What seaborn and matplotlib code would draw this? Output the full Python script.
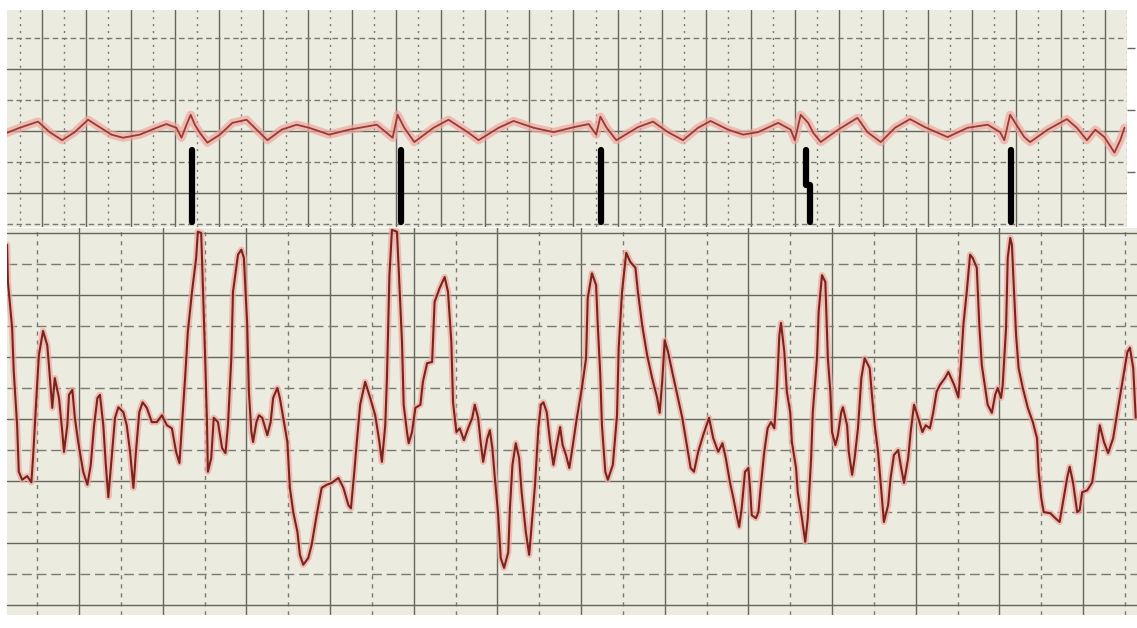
import numpy as np
import pandas as pd
import matplotlib
matplotlib.use("Agg")
import matplotlib.pyplot as plt
import seaborn as sns

# lower strip: time in large boxes, amplitude in large boxes
low_t = [0.14, 0.15, 0.20, 0.22, 0.26, 0.28, 0.32, 0.38, 0.43, 0.45,
         0.49, 0.52, 0.57, 0.62, 0.64, 0.68, 0.71, 0.76, 0.80, 0.82,
         0.86, 0.88, 0.92, 0.95, 0.99, 1.05, 1.10, 1.14, 1.18, 1.22,
         1.25, 1.29, 1.32, 1.35, 1.39, 1.43, 1.47, 1.53, 1.57, 1.61,
         1.65, 1.68, 1.72, 1.76, 1.81, 1.87, 1.93, 1.99, 2.05, 2.11,
         2.16, 2.20, 2.24, 2.27, 2.30, 2.35, 2.40, 2.42, 2.46, 2.48,
         2.51, 2.53, 2.54, 2.58, 2.61, 2.66, 2.71, 2.75, 2.78, 2.82,
         2.84, 2.90, 2.94, 2.97, 3.01, 3.03, 3.06, 3.08, 3.12, 3.15,
         3.19, 3.25, 3.29, 3.32, 3.37, 3.40, 3.44, 3.49, 3.52, 3.56,
         3.61, 3.64, 3.68, 3.74, 3.78, 3.84, 3.90, 3.96, 4.02, 4.10,
         4.16, 4.22, 4.25, 4.29, 4.32, 4.36, 4.42, 4.48, 4.54, 4.59,
         4.62, 4.66, 4.68, 4.71, 4.74, 4.80, 4.82, 4.86, 4.88, 4.92,
         4.94, 4.98, 5.02, 5.08, 5.11, 5.16, 5.22, 5.25, 5.31, 5.37,
         5.41, 5.45, 5.47, 5.51, 5.55, 5.60, 5.65, 5.70, 5.73, 5.77,
         5.80, 5.83, 5.88, 5.91, 5.94, 5.97, 6.01, 6.04, 6.08, 6.13,
         6.15, 6.18, 6.22, 6.26, 6.29, 6.34, 6.38, 6.41, 6.45, 6.49,
         6.52, 6.55, 6.59, 6.63, 6.67, 6.71, 6.75, 6.78, 6.82, 6.86,
         6.89, 6.95, 7.01, 7.06, 7.08, 7.13, 7.18, 7.20, 7.23, 7.25,
         7.29, 7.32, 7.38, 7.43, 7.45, 7.49, 7.54, 7.59, 7.65, 7.68,
         7.73, 7.79, 7.85, 7.91, 7.94, 7.97, 8.00, 8.04, 8.09, 8.15,
         8.21, 8.27, 8.31, 8.35, 8.40, 8.46, 8.53, 8.58, 8.64, 8.69,
         8.73, 8.78, 8.82, 8.86, 8.89, 8.92, 8.96, 9.00, 9.02, 9.04,
         9.09, 9.12, 9.15, 9.19, 9.23, 9.27, 9.31, 9.34, 9.37, 9.39,
         9.43, 9.46, 9.50, 9.52, 9.57, 9.59, 9.64, 9.68, 9.71, 9.75,
         9.77, 9.82, 9.84, 9.88, 9.92, 9.95, 9.98, 10.00, 10.04, 10.07,
         10.11, 10.13, 10.18, 10.20, 10.24, 10.27, 10.31, 10.35, 10.39, 10.45,
         10.48, 10.51, 10.55, 10.59, 10.62, 10.67, 10.70, 10.74, 10.79, 10.82,
         10.86, 10.91, 10.94, 10.98, 11.03, 11.08, 11.12, 11.17, 11.21, 11.25,
         11.29, 11.35, 11.39, 11.46, 11.51, 11.54, 11.57, 11.61, 11.65, 11.68,
         11.73, 11.76, 11.79, 11.83, 11.86, 11.91, 11.95, 11.98, 12.02, 12.04,
         12.08, 12.10, 12.13, 12.15, 12.17, 12.20, 12.23, 12.28, 12.34, 12.40,
         12.45, 12.47, 12.50, 12.53, 12.61, 12.67, 12.72, 12.76, 12.81, 12.84,
         12.88, 12.93, 12.96, 12.99, 13.05, 13.11, 13.15, 13.20, 13.25, 13.30,
         13.36, 13.41, 13.47, 13.53, 13.56, 13.60, 13.63]
low_v = [5.81, 5.21, 4.47, 3.76, 2.90, 2.15, 2.02, 2.08, 1.98, 2.37,
         3.34, 4.03, 4.42, 4.19, 3.87, 3.18, 3.66, 3.34, 2.79, 2.47,
         2.90, 3.39, 3.47, 3.02, 2.63, 2.15, 1.94, 2.26, 2.90, 3.34,
         3.39, 2.90, 2.26, 1.74, 2.37, 3.02, 3.19, 3.11, 2.90, 2.47,
         1.89, 2.47, 3.11, 3.27, 3.18, 2.95, 2.95, 3.06, 2.90, 2.85,
         2.47, 2.29, 3.11, 3.71, 4.40, 5.05, 5.60, 6.02, 6.00, 5.16,
         3.87, 2.90, 2.15, 2.37, 3.02, 2.95, 2.53, 2.45, 2.90, 3.98,
         5.05, 5.65, 5.73, 5.60, 4.52, 3.44, 2.79, 2.63, 2.95, 3.06,
         3.02, 2.74, 2.95, 3.34, 3.50, 3.34, 3.02, 2.63, 1.89, 1.50,
         1.18, 0.81, 0.65, 0.76, 0.97, 1.45, 1.89, 1.94, 1.97, 2.05,
         1.89, 1.61, 1.56, 2.15, 2.63, 3.23, 3.60, 3.34, 3.06, 2.63,
         2.31, 2.90, 3.66, 5.32, 6.05, 6.02, 5.44, 4.24, 3.23, 2.79,
         2.61, 2.79, 3.18, 3.23, 3.60, 3.90, 3.92, 4.89, 5.11, 5.29,
         5.05, 4.24, 3.27, 2.79, 2.85, 2.66, 2.85, 3.02, 3.23, 3.02,
         2.63, 2.31, 2.69, 2.82, 2.53, 2.05, 1.45, 0.76, 0.60, 0.85,
         1.56, 2.26, 2.61, 2.37, 1.82, 1.18, 0.81, 1.29, 1.94, 2.85,
         3.23, 3.27, 3.11, 2.63, 2.26, 2.58, 2.87, 2.58, 2.42, 2.21,
         2.47, 3.02, 3.50, 3.98, 4.95, 5.35, 5.16, 4.52, 3.71, 2.90,
         2.15, 2.02, 2.26, 3.06, 4.15, 5.05, 5.68, 5.53, 5.44, 5.05,
         4.52, 4.03, 3.66, 3.34, 3.10, 3.60, 4.27, 4.08, 3.76, 3.39,
         3.02, 2.53, 2.21, 2.15, 2.47, 2.74, 3.02, 2.69, 2.47, 2.61,
         2.37, 1.98, 1.73, 1.45, 1.26, 1.56, 2.15, 2.21, 1.89, 1.45,
         1.40, 1.50, 1.94, 2.47, 2.85, 2.95, 2.85, 3.44, 4.35, 4.55,
         4.08, 3.44, 3.11, 2.63, 2.21, 1.82, 1.40, 1.02, 1.40, 2.37,
         3.11, 3.98, 4.73, 5.32, 5.21, 3.98, 3.44, 2.79, 2.58, 2.74,
         3.11, 3.19, 2.90, 2.47, 2.10, 2.37, 2.85, 3.66, 3.98, 3.82,
         3.34, 2.90, 2.47, 1.82, 1.34, 1.61, 2.05, 2.42, 2.50, 2.26,
         1.97, 2.37, 2.79, 3.23, 3.02, 2.79, 2.90, 2.85, 3.11, 3.44,
         3.55, 3.66, 3.76, 3.55, 3.35, 3.87, 4.52, 5.05, 5.65, 5.60,
         5.44, 4.52, 3.87, 3.50, 3.23, 3.10, 3.39, 3.50, 3.34, 3.55,
         4.47, 5.60, 5.92, 5.81, 5.21, 4.35, 3.82, 3.50, 3.18, 2.95,
         2.69, 2.15, 1.73, 1.50, 1.48, 1.40, 1.34, 1.66, 2.05, 2.23,
         1.98, 1.50, 1.53, 1.82, 1.85, 1.98, 2.37, 2.90, 2.63, 2.45,
         2.69, 3.11, 3.60, 4.08, 4.15, 3.82, 3.02]

# upper strip: same time base, amplitude around the baseline at 1
up_t = [0.14, 0.29, 0.51, 0.65, 0.80, 0.95, 1.11, 1.25, 1.39, 1.53,
        1.73, 1.93, 2.05, 2.17, 2.23, 2.29, 2.34, 2.39, 2.45, 2.54,
        2.69, 2.84, 3.01, 3.13, 3.26, 3.43, 3.61, 3.76, 4.00, 4.24,
        4.57, 4.76, 4.82, 4.90, 5.02, 5.25, 5.43, 5.67, 5.79, 6.03,
        6.21, 6.45, 6.69, 6.93, 7.11, 7.20, 7.25, 7.32, 7.44, 7.70,
        7.88, 8.06, 8.24, 8.42, 8.57, 8.78, 8.96, 9.14, 9.38, 9.53,
        9.58, 9.65, 9.74, 9.80, 9.89, 10.10, 10.33, 10.45, 10.61, 10.78,
        10.96, 11.14, 11.41, 11.65, 11.89, 12.04, 12.09, 12.16, 12.22, 12.33,
        12.40, 12.61, 12.84, 12.96, 13.08, 13.18, 13.29, 13.41, 13.48, 13.53]
up_v = [0.97, 1.05, 1.15, 0.98, 0.85, 0.98, 1.18, 1.06, 0.94, 0.89,
        0.94, 1.05, 1.11, 1.05, 0.89, 1.10, 1.26, 1.10, 0.97, 0.81,
        0.94, 1.13, 1.18, 1.02, 0.85, 1.02, 1.10, 1.05, 0.94, 1.02,
        1.10, 0.89, 1.26, 1.05, 0.82, 1.05, 1.18, 0.97, 0.85, 1.05,
        1.16, 1.05, 0.98, 1.06, 1.11, 0.94, 1.23, 1.06, 0.85, 1.06,
        1.15, 0.98, 0.85, 1.05, 1.16, 1.02, 0.94, 0.98, 1.13, 1.02,
        0.85, 1.26, 1.13, 0.97, 0.82, 1.02, 1.21, 0.98, 0.82, 1.05,
        1.19, 1.06, 0.90, 1.05, 1.10, 0.98, 0.85, 1.26, 1.13, 0.90,
        0.82, 1.02, 1.19, 1.05, 0.85, 1.02, 0.90, 0.65, 0.85, 1.05]

# black event marks drawn by hand on the upper strip
mark_t = [2.36, 4.86, 7.26, 12.17]
mark_top = 0.69
mark_bottom = -0.47
bent_t = [9.71, 9.71, 9.76, 9.76]   # the 4th mark has a small kink
bent_v = [0.69, 0.13, 0.13, -0.47]

PAPER = "#ecebdf"
GRID = "#66665e"
GRID2 = "#7a7a72"
INK = "#7a231d"
HALO = "#eea79e"

sns.set_theme(style="white", rc={"axes.facecolor": PAPER, "figure.facecolor": "white"})


def paper_grid(ax, xmaj, xmin, ymaj, ymin, xdash, ydash):
    ax.set_xticks(xmaj)
    ax.set_xticks(xmin, minor=True)
    ax.set_yticks(ymaj)
    ax.set_yticks(ymin, minor=True)
    ax.xaxis.grid(True, which="major", color=GRID, lw=1.0, ls="-")
    ax.yaxis.grid(True, which="major", color=GRID, lw=1.0, ls="-")
    ax.xaxis.grid(True, which="minor", color=GRID2, lw=1.0, ls=xdash)
    ax.yaxis.grid(True, which="minor", color=GRID2, lw=1.0, ls=ydash)
    ax.tick_params(which="both", length=0, labelbottom=False, labelleft=False)
    ax.set_xlabel("")
    ax.set_ylabel("")
    ax.set_axisbelow(True)
    for s in ax.spines.values():
        s.set_visible(False)


fig = plt.figure(figsize=(11.37, 6.28), dpi=100)
ax_up = fig.add_axes([7 / 1137, 1 - 227 / 628, 1120 / 1137, 217 / 628])
ax_low = fig.add_axes([7 / 1137, 13 / 628, 1130 / 1137, 387 / 628])

# lower strip
low = pd.DataFrame({"t": low_t, "v": low_v})
sns.lineplot(data=low, x="t", y="v", ax=ax_low, sort=False, estimator=None,
             color=HALO, linewidth=4.5, alpha=0.7)
sns.lineplot(data=low, x="t", y="v", ax=ax_low, sort=False, estimator=None,
             color=INK, linewidth=1.5)
ax_low.set_xlim(0.139, 13.645)
ax_low.set_ylim(-0.16, 6.08)
paper_grid(ax_low, np.arange(1, 14), np.arange(0.5, 14, 1.0),
           np.arange(0, 7), np.arange(0.5, 6.5, 1.0),
           (0, (3, 3.5)), (0, (7, 3.5)))

# upper strip
up = pd.DataFrame({"t": up_t, "v": up_v})
sns.lineplot(data=up, x="t", y="v", ax=ax_up, sort=False, estimator=None,
             color=HALO, linewidth=6, alpha=0.7)
sns.lineplot(data=up, x="t", y="v", ax=ax_up, sort=False, estimator=None,
             color="#9a3a34", linewidth=1.3)
ax_up.vlines(mark_t, mark_bottom, mark_top, color="black", lw=4.5, capstyle="round")
sns.lineplot(x=bent_t, y=bent_v, ax=ax_up, sort=False, estimator=None,
             color="black", linewidth=4.5)
ax_up.set_xlim(0.139, 13.525)
ax_up.set_ylim(-0.55, 2.95)
step = 0.5307
paper_grid(ax_up, np.arange(0.558, 13.6, step), np.arange(0.293, 13.6, step),
           np.arange(0, 3), np.arange(-0.5, 3, 1.0),
           (0, (1.5, 3.5)), (0, (4, 2.5)))

# small scale ticks on the right edge of the upper strip
ax_r = ax_up.twinx()
ax_r.set_ylim(ax_up.get_ylim())
ax_r.set_yticks([0.34, 1.34, 2.34])
ax_r.tick_params(axis="y", length=6, width=1, color=GRID, labelright=False)
ax_r.grid(False)
for s in ax_r.spines.values():
    s.set_visible(False)

fig.savefig("out.png", dpi=100)
